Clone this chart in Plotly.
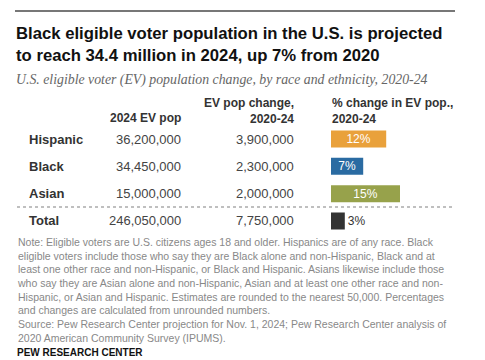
import plotly.graph_objects as go

groups = ["Hispanic", "Black", "Asian", "Total"]
ev_pop_2024 = ["36,200,000", "34,450,000", "15,000,000", "246,050,000"]
ev_change = ["3,900,000", "2,300,000", "2,000,000", "7,750,000"]
pct_change = [12, 7, 15, 3]
bar_colors = ["#E9A13B", "#2A6BA2", "#97A24B", "#333333"]

# page has an 8px body margin; compensate so the picture lines up with the 485x360 window
OFF = 8
W, H = 485 - OFF, 360 - OFF
def px(x): return (x - OFF) / W
def py(y): return 1 - (y - OFF) / H

title_font = "Liberation Sans"
body_font = "Liberation Sans"

fig = go.Figure()
fig.add_trace(go.Bar(
    x=pct_change, y=groups, orientation="h",
    marker=dict(color=bar_colors, line=dict(width=0)),
    width=0.62,
    text=[f"{v}%" for v in pct_change],
    textposition=["inside", "inside", "inside", "outside"],
    insidetextanchor="middle",
    constraintext="none",
    textfont=dict(family=body_font, size=12),
    insidetextfont=dict(color="#FFFFFF", family=body_font, size=12),
    outsidetextfont=dict(color="#333333", family=body_font, size=12),
    cliponaxis=False,
    hoverinfo="skip",
))

row_top, row_step = 139, 27.33
y_top = row_top - 0.5 * row_step
y_bot = row_top + 3.5 * row_step
fig.update_layout(
    width=W, height=H,
    margin=dict(l=0, r=0, t=0, b=0),
    paper_bgcolor="white", plot_bgcolor="white",
    showlegend=False,
    xaxis=dict(domain=[px(331), px(455)], range=[0, 124 / 4.6], visible=False, fixedrange=True),
    yaxis=dict(domain=[py(y_bot), py(y_top)], range=[3.5, -0.5], type="category",
               categoryorder="array", categoryarray=groups, visible=False, fixedrange=True),
)

ann = []
def add(text, x, y, size, color="#222", bold=False, xanchor="left", yanchor="middle",
        family=body_font, yref="paper", italic=False, align="left"):
    t = f"<b>{text}</b>" if bold else text
    if italic:
        t = f"<i>{t}</i>"
    ann.append(dict(text=t, x=px(x), y=y if yref == "y" else py(y), xref="paper", yref=yref,
                    xanchor=xanchor, yanchor=yanchor, showarrow=False, align=align,
                    font=dict(size=size, color=color, family=family)))

# Title & subtitle
add("Black eligible voter population in the U.S. is projected", 14, 34, 16.7, "#111", bold=True, family=title_font)
add("to reach 34.4 million in 2024, up 7% from 2020", 14, 55, 16.7, "#111", bold=True, family=title_font)
add("U.S. eligible voter (EV) population change, by race and ethnicity, 2020-24", 14, 80, 13.8,
    "#666", italic=True, family="Liberation Serif")

# Column headers
add("2024 EV pop", 183, 118, 12, "#333", bold=True, xanchor="right")
add("EV pop change,<br>2020-24", 296, 111, 12, "#333", bold=True, xanchor="right", align="right")
add("% change in EV pop.,<br>2020-24", 330, 111, 12, "#333", bold=True, xanchor="left")

# Table rows
for g, a, b in zip(groups, ev_pop_2024, ev_change):
    add(g, 27, g, 13, "#333", bold=True, yref="y")
    add(a, 183, g, 13, "#444", xanchor="right", yref="y")
    add(b, 296, g, 13, "#444", xanchor="right", yref="y")

note = ("Note: Eligible voters are U.S. citizens ages 18 and older. Hispanics are of any race. Black<br>"
        "eligible voters include those who say they are Black alone and non-Hispanic, Black and at<br>"
        "least one other race and non-Hispanic, or Black and Hispanic. Asians likewise include those<br>"
        "who say they are Asian alone and non-Hispanic, Asian and at least one other race and non-<br>"
        "Hispanic, or Asian and Hispanic. Estimates are rounded to the nearest 50,000. Percentages<br>"
        "and changes are calculated from unrounded numbers.<br>"
        "Source: Pew Research Center projection for Nov. 1, 2024; Pew Research Center analysis of<br>"
        "2020 American Community Survey (IPUMS).")
add(note, 15, 234, 10.5, "#888", yanchor="top")
add("PEW RESEARCH CENTER", 15, 360, 10, "#111", bold=True, yanchor="bottom")
fig.update_layout(annotations=ann)

fig.add_shape(type="line", xref="paper", yref="paper", x0=px(15), x1=px(455), y0=py(11), y1=py(11),
              line=dict(color="#777", width=2))
fig.add_shape(type="line", xref="paper", yref="paper", x0=px(17), x1=px(453), y0=py(207), y1=py(207),
              line=dict(color="#AAA", width=1.5, dash="dot"))

fig.write_html("out.html", config=dict(displayModeBar=False))
